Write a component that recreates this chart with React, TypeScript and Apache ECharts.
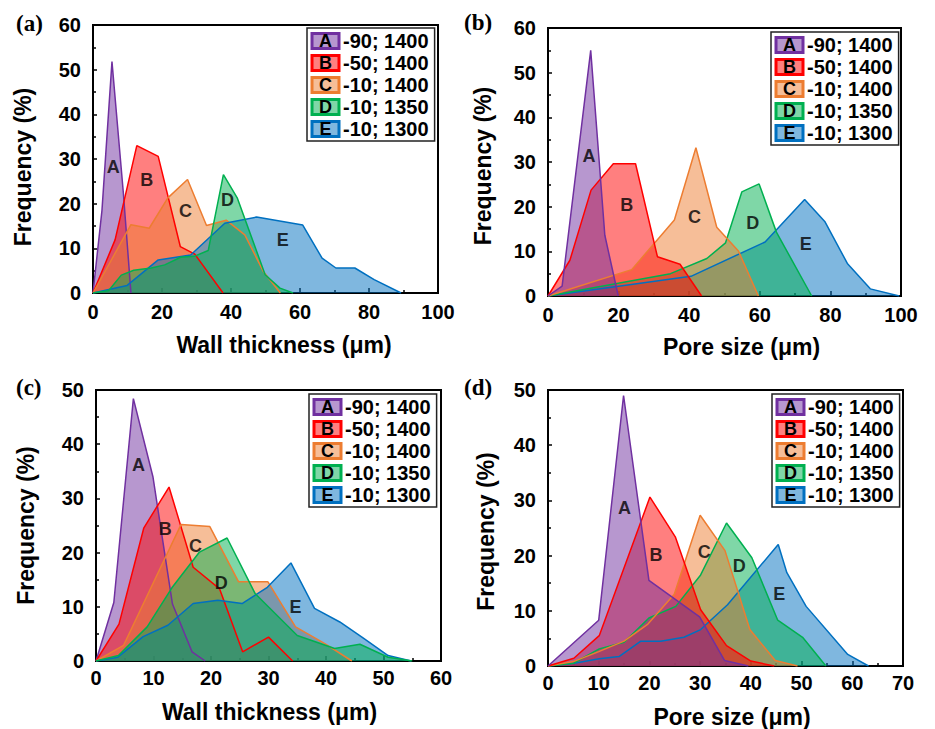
import React, { useEffect, useRef } from 'react';
import * as echarts from 'echarts';

const seriesNames = ['-90; 1400', '-50; 1400', '-10; 1400', '-10; 1350', '-10; 1300'];
const seriesLetters = ['A', 'B', 'C', 'D', 'E'];
const lineColors = ['#7030A0', '#FF0000', '#ED7D31', '#00B050', '#0070C0'];
const fillColors = ['rgba(112,48,160,0.5)', 'rgba(255,0,0,0.5)', 'rgba(237,125,49,0.5)', 'rgba(0,176,80,0.5)', 'rgba(0,112,192,0.5)'];

// (a) wall thickness
const aA = [[0, 0], [2.6, 18.5], [5.5, 51.8], [8.8, 22.4], [11, 0]];
const aB = [[0, 0], [6.4, 11.9], [12.7, 33], [18.9, 30.6], [25.3, 10.4], [29.5, 8.7], [37.7, 0]];
const aC = [[0, 0], [11, 15.3], [16.3, 14.5], [21.7, 21.3], [27.4, 25.4], [32.9, 15.1], [38.6, 16.3], [44, 13], [49.4, 4.8], [54.3, 0]];
const aD = [[0, 0], [4.5, 0.5], [8.2, 4], [11.8, 5.1], [16.9, 5.6], [20.8, 6.3], [25.4, 8], [29.3, 8.2], [33.4, 9.5], [37.8, 26.5], [41.8, 21.3], [49.9, 4.1], [54.2, 1.1], [58, 0]];
const aE = [[0, 0], [9.9, 1.7], [18.9, 7.4], [28.3, 8.5], [38.2, 15.6], [47.4, 17], [60.8, 15.2], [66.4, 7.8], [70.4, 5.6], [75.9, 5.6], [81.5, 3], [89.3, 0]];
const aLabels = [[5.9, 28.3], [15.6, 25.4], [26.8, 18.3], [39, 20.9], [55, 11.8]];

// (b) pore size
const bA = [[0, 0], [4, 2.2], [12.1, 55], [16.1, 13.6], [19.9, 0]];
const bB = [[0, 0], [6.2, 8], [12.2, 23.7], [18.5, 29.6], [24.8, 29.6], [31, 8.8], [37.4, 7.1], [43.5, 0]];
const bC = [[0, 0], [23.7, 5.9], [35.8, 17], [41.9, 33.2], [47.8, 15.4], [54, 10], [59.6, 0]];
const bD = [[0, 0], [34.7, 5], [45, 8.4], [50.3, 11.9], [54.9, 23.3], [59.8, 25.1], [64.7, 14.3], [74.7, 0]];
const bE = [[0, 0], [40.5, 4.4], [61.5, 12.1], [72.7, 21.6], [78.4, 16.7], [84.8, 7.3], [91.3, 1.6], [99.5, 0]];
const bLabels = [[11.6, 31.4], [22.3, 20.3], [41.5, 17.7], [58, 16.4], [73, 11.7]];

// (c) wall thickness
const cA = [[0, 0], [3.1, 10.8], [6.5, 48.4], [9.9, 34], [13.3, 10.5], [16.7, 1.7], [19, 0]];
const cB = [[0, 0], [4, 6.8], [8.3, 24.5], [12.7, 32.1], [16.9, 17.3], [21.5, 13.3], [25.5, 1.7], [30, 4.4], [34.2, 0]];
const cC = [[0, 0], [4.8, 2.9], [14.8, 25.2], [19.8, 24.8], [24.8, 14.6], [29.9, 14.6], [34.7, 6.3], [39.8, 3.2], [44.5, 0]];
const cD = [[0, 0], [3.9, 1], [8.9, 6.3], [13.2, 13.5], [18, 20.1], [22.8, 22.7], [27.7, 12.4], [35, 4.7], [41.5, 2.3], [45.9, 3.1], [50.8, 0.7], [55, 0]];
const cE = [[0, 0], [3.8, 0.7], [8.2, 4.5], [12.5, 6.6], [16.9, 10.6], [21.2, 11.2], [25.4, 10.6], [29.8, 13.6], [33.9, 18.1], [38, 9.7], [42.4, 7.2], [46.5, 4.2], [50.8, 1], [54.8, 0]];
const cLabels = [[7.4, 36.1], [12.05, 24.3], [17.3, 21.2], [21.8, 14.3], [34.7, 10]];

// (d) pore size
const dA = [[0, 0], [10, 8.3], [14.9, 49], [19.9, 15.5], [29.9, 8.9], [34.8, 1], [39.5, 0]];
const dB = [[0, 0], [5.1, 1.4], [10.1, 5.5], [20.1, 30.6], [25.1, 23.4], [30.1, 10.2], [35.2, 3.7], [40, 0.9], [44.6, 0]];
const dC = [[0, 0], [5, 0.8], [10, 2.6], [15, 4.5], [19.7, 7.6], [24.9, 13], [30, 27.3], [34.9, 20.9], [39.8, 6.6], [44.8, 1], [49.2, 0]];
const dD = [[0, 0], [5, 0.5], [10.1, 3.1], [15, 4.3], [19.9, 8.7], [25.2, 10.8], [30.1, 16.5], [35.2, 25.9], [40.2, 19.6], [45.3, 8.3], [50.2, 5.2], [54.8, 0]];
const dE = [[0, 0], [5.2, 0.5], [10.1, 1.3], [14, 1.7], [18.3, 4.5], [22.2, 4.5], [26.8, 5.2], [30.1, 6.6], [35.4, 11.1], [45.4, 22], [47.1, 16.9], [50.9, 10.8], [59.1, 2.1], [63.2, 0]];
const dLabels = [[15.1, 28.7], [21.3, 20.1], [30.8, 20.7], [37.7, 18.1], [45.6, 13]];

const xTitles = ['Wall thickness (μm)', 'Pore size (μm)', 'Wall thickness (μm)', 'Pore size (μm)'];
const yTitle = 'Frequency (%)';
const panelTags = ['(a)', '(b)', '(c)', '(d)'];
const xMaxes = [100, 100, 60, 70];
const xSteps = [20, 20, 10, 10];
const yMaxes = [60, 60, 50, 50];
const yStep = 10;

const panelData = [
  [aA, aB, aC, aD, aE],
  [bA, bB, bC, bD, bE],
  [cA, cB, cC, cD, cE],
  [dA, dB, dC, dD, dE],
];
const panelLabels = [aLabels, bLabels, cLabels, dLabels];

// layout (pixels)
const layouts = [
  { grid: { left: 93, top: 25, width: 345, height: 268 }, legend: { left: 307, top: 28 }, tag: { left: 16, top: 12 }, xGap: 40, xPad: 37, yGap: 59, yPad: 16, order: [0, 1, 2, 4, 3], xMargin: 9 },
  { grid: { left: 548, top: 28, width: 353, height: 268 }, legend: { left: 771, top: 32 }, tag: { left: 464, top: 11 }, xGap: 39, xPad: 34, yGap: 54, yPad: 8, order: [4, 3, 2, 1, 0], xMargin: 9 },
  { grid: { left: 96, top: 390, width: 345, height: 271 }, legend: { left: 309, top: 394 }, tag: { left: 16, top: 376 }, xGap: 39, xPad: 2, yGap: 59, yPad: 0, order: [0, 1, 2, 4, 3], xMargin: 7 },
  { grid: { left: 548, top: 390, width: 355, height: 277 }, legend: { left: 772, top: 394 }, tag: { left: 464, top: 376 }, xGap: 39, xPad: 13, yGap: 51, yPad: 7, order: [4, 3, 2, 1, 0], xMargin: 7 },
];

const FONT = '"Liberation Sans", Arial, Helvetica, sans-serif';

function buildOption() {
  const grids: any[] = [];
  const xAxes: any[] = [];
  const yAxes: any[] = [];
  const series: any[] = [];
  const legends: any[] = [];
  const titles: any[] = [];

  const rich: any = {
    t: { fontSize: 20, fontWeight: 'bold', color: '#000', fontFamily: FONT, padding: [0, 0, 0, 4], lineHeight: 20 },
  };
  seriesLetters.forEach((L, i) => {
    rich['box' + L] = {
      width: 27, height: 15, lineHeight: 15, align: 'center', verticalAlign: 'middle',
      backgroundColor: fillColors[i], borderColor: lineColors[i], borderWidth: 1.5,
      fontSize: 18, fontWeight: 'bold', color: '#000', fontFamily: FONT,
    };
  });

  layouts.forEach((lay, p) => {
    grids.push({ ...lay.grid, show: true, borderColor: '#000', borderWidth: 2, backgroundColor: 'transparent', containLabel: false });
    const tickStyle = { color: '#000', width: 1.5 };
    xAxes.push({
      type: 'value', gridIndex: p, min: 0, max: xMaxes[p], interval: xSteps[p],
      axisLine: { show: true, onZero: false, lineStyle: { color: '#000', width: 2 } },
      axisTick: { show: true, inside: true, length: 5, lineStyle: tickStyle },
      minorTick: { show: true, splitNumber: 2, length: 3, lineStyle: tickStyle },
      splitLine: { show: false },
      axisLabel: { color: '#000', fontSize: 20, fontWeight: 'bold', fontFamily: FONT, margin: lay.xMargin },
      name: xTitles[p], nameLocation: 'middle', nameGap: lay.xGap,
      nameTextStyle: { color: '#000', fontSize: 23, fontWeight: 'bold', fontFamily: FONT, padding: [0, 0, 0, lay.xPad] },
    });
    yAxes.push({
      type: 'value', gridIndex: p, min: 0, max: yMaxes[p], interval: yStep,
      axisLine: { show: true, onZero: false, lineStyle: { color: '#000', width: 2 } },
      axisTick: { show: true, inside: true, length: 4, lineStyle: tickStyle },
      minorTick: { show: true, splitNumber: 2, length: 3, lineStyle: tickStyle },
      splitLine: { show: false },
      axisLabel: { color: '#000', fontSize: 20, fontWeight: 'bold', fontFamily: FONT, margin: 12 },
      name: yTitle, nameLocation: 'middle', nameGap: lay.yGap,
      nameTextStyle: { color: '#000', fontSize: 23, fontWeight: 'bold', fontFamily: FONT, padding: [0, lay.yPad, 0, 0] },
    });
    lay.order.forEach((s) => {
      series.push({
        type: 'line', name: seriesNames[s], xAxisIndex: p, yAxisIndex: p,
        data: panelData[p][s], symbol: 'none', showSymbol: false,
        color: lineColors[s],
        lineStyle: { color: lineColors[s], width: 1.5 },
        itemStyle: { color: lineColors[s] },
        areaStyle: { color: lineColors[s], opacity: 0.5 },
        silent: true,
      });
    });
    series.push({
      type: 'scatter', xAxisIndex: p, yAxisIndex: p, silent: true, z: 10,
      symbolSize: 1, itemStyle: { color: 'transparent' },
      data: panelLabels[p].map((pt, j) => ({ value: pt, name: seriesLetters[j] })),
      label: { show: true, position: 'inside', formatter: '{b}', fontSize: 18, fontWeight: 'bold', color: '#000', fontFamily: FONT },
    });
    legends.push({
      orient: 'vertical', left: lay.legend.left, top: lay.legend.top,
      data: seriesNames, icon: 'none', itemWidth: 0, itemHeight: 16, itemGap: 2,
      padding: [3, 6, 2, 0], borderColor: '#222', borderWidth: 1.5, backgroundColor: '#fff',
      selectedMode: false,
      formatter: (name: string) => {
        const L = seriesLetters[seriesNames.indexOf(name)];
        return `{box${L}|${L}}{t|${name}}`;
      },
      textStyle: { fontSize: 18, fontWeight: 'bold', color: '#000', fontFamily: FONT, rich },
    });
    titles.push({
      text: panelTags[p], left: lay.tag.left, top: lay.tag.top, padding: 0,
      textStyle: { fontFamily: '"Liberation Serif", "Times New Roman", serif', fontWeight: 'bold', fontSize: 23, color: '#000' },
    });
  });

  return {
    animation: false,
    backgroundColor: '#fff',
    title: titles,
    grid: grids,
    xAxis: xAxes,
    yAxis: yAxes,
    legend: legends,
    series,
  };
}

export default function App() {
  const ref = useRef<HTMLDivElement>(null);
  useEffect(() => {
    document.body.style.margin = '0';
    if (!ref.current) return;
    const chart = echarts.init(ref.current, undefined, { renderer: 'svg' });
    chart.setOption(buildOption() as any);
    return () => chart.dispose();
  }, []);
  return <div ref={ref} style={{ width: 935, height: 729 }} />;
}
